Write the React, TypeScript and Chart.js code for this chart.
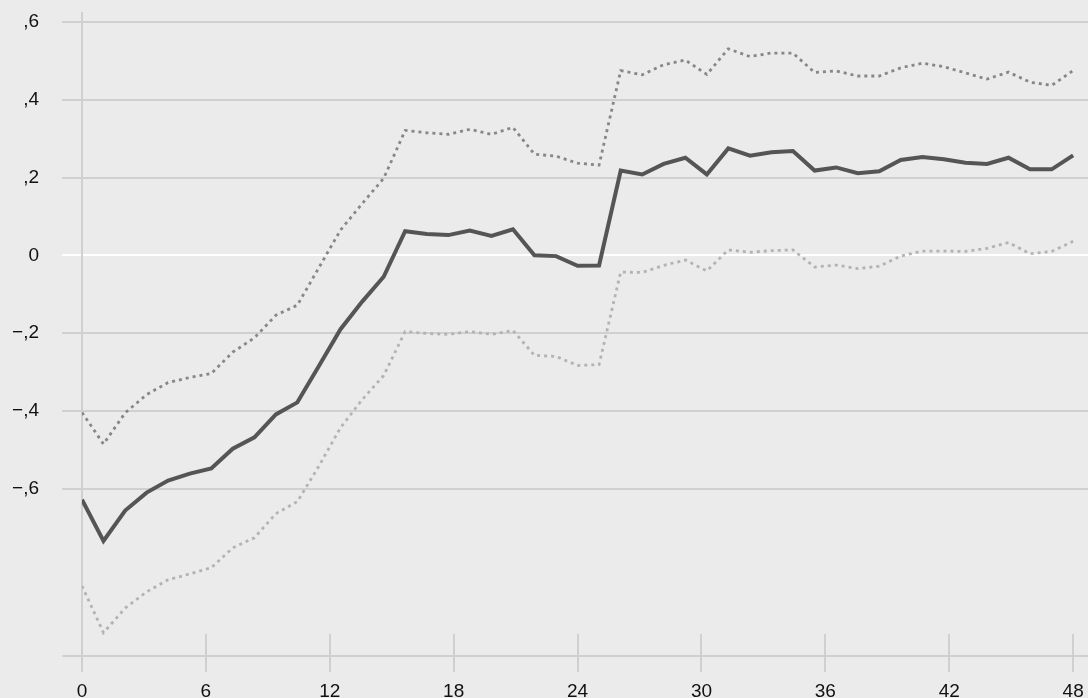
import React, { useEffect, useRef } from "react";
import { Chart, registerables } from "chart.js";

Chart.register(...registerables);

const lags = [0, 1.04, 2.09, 3.13, 4.17, 5.22, 6.26, 7.3, 8.35, 9.39, 10.43, 11.48, 12.52, 13.57, 14.61, 15.65, 16.7, 17.74, 18.78, 19.83, 20.87, 21.91, 22.96, 24, 25.04, 26.09, 27.13, 28.17, 29.22, 30.26, 31.3, 32.35, 33.39, 34.43, 35.48, 36.52, 37.57, 38.61, 39.65, 40.7, 41.74, 42.78, 43.83, 44.87, 45.91, 46.96, 48];

const estimate = [-0.628, -0.734, -0.656, -0.61, -0.579, -0.561, -0.548, -0.497, -0.468, -0.409, -0.378, -0.284, -0.19, -0.119, -0.055, 0.062, 0.055, 0.052, 0.064, 0.05, 0.067, 0.0, -0.002, -0.027, -0.026, 0.218, 0.208, 0.235, 0.251, 0.208, 0.275, 0.256, 0.265, 0.268, 0.218, 0.226, 0.211, 0.216, 0.245, 0.253, 0.247, 0.238, 0.235, 0.251, 0.221, 0.221, 0.257];

const upperBound = [-0.404, -0.485, -0.405, -0.358, -0.327, -0.314, -0.304, -0.249, -0.212, -0.154, -0.128, -0.031, 0.065, 0.133, 0.198, 0.321, 0.315, 0.311, 0.324, 0.311, 0.329, 0.26, 0.255, 0.237, 0.232, 0.475, 0.464, 0.49, 0.502, 0.465, 0.531, 0.511, 0.52, 0.52, 0.47, 0.474, 0.461, 0.461, 0.482, 0.494, 0.485, 0.469, 0.453, 0.471, 0.445, 0.437, 0.475];

const lowerBound = [-0.85, -0.97, -0.907, -0.865, -0.834, -0.819, -0.803, -0.752, -0.726, -0.664, -0.633, -0.541, -0.443, -0.371, -0.309, -0.196, -0.201, -0.203, -0.196, -0.203, -0.193, -0.257, -0.26, -0.283, -0.281, -0.043, -0.044, -0.026, -0.012, -0.04, 0.014, 0.008, 0.012, 0.014, -0.03, -0.025, -0.034, -0.028, -0.002, 0.011, 0.011, 0.01, 0.018, 0.033, 0.004, 0.01, 0.036];

const yTickValues = [-0.6, -0.4, -0.2, 0, 0.2, 0.4, 0.6];
const xTickValues = [0, 6, 12, 18, 24, 30, 36, 42, 48];

const Y_MIN = -1.03;
const Y_MAX = 0.623;
const X_MIN = 0;
const X_MAX = 48.72;

const GRID = "#d0d0d0";
const FONT = { family: "'Liberation Sans', Arial, Helvetica, sans-serif", size: 19 };

function fmtY(v: number): string {
  if (Math.abs(v) < 1e-9) return "0";
  const s = Math.abs(v).toFixed(1).replace(/^0\./, ",");
  return (v < 0 ? "\u2212" : "") + s;
}

const tickUpPlugin = {
  id: "tickUp",
  beforeDatasetsDraw(chart: any) {
    const xs = chart.scales.x;
    const area = chart.chartArea;
    const ctx = chart.ctx;
    ctx.save();
    ctx.strokeStyle = GRID;
    ctx.lineWidth = 2;
    xTickValues.forEach((v) => {
      const px = Math.round(xs.getPixelForValue(v));
      ctx.beginPath();
      ctx.moveTo(px, area.bottom - 22);
      ctx.lineTo(px, area.bottom);
      ctx.stroke();
    });
    ctx.restore();
  },
};

export default function App() {
  const ref = useRef<HTMLCanvasElement | null>(null);

  useEffect(() => {
    if (!ref.current) return;
    const mk = (arr: number[]) => arr.map((y, i) => ({ x: lags[i], y }));
    const chart = new Chart(ref.current, {
      type: "line",
      data: {
        datasets: [
          {
            data: mk(upperBound),
            borderColor: "#878787",
            borderWidth: 2.8,
            borderDash: [3, 4],
            pointRadius: 0,
            tension: 0,
          },
          {
            data: mk(lowerBound),
            borderColor: "#b3b3b3",
            borderWidth: 2.8,
            borderDash: [3, 4],
            pointRadius: 0,
            tension: 0,
          },
          {
            data: mk(estimate),
            borderColor: "#555555",
            borderWidth: 4,
            pointRadius: 0,
            tension: 0,
          },
        ],
      },
      options: {
        animation: false,
        responsive: true,
        maintainAspectRatio: false,
        layout: { padding: { top: 13, left: 0, right: 0, bottom: 0 } },
        plugins: { legend: { display: false }, tooltip: { enabled: false } },
        scales: {
          x: {
            type: "linear",
            min: X_MIN,
            max: X_MAX,
            afterFit: (s: any) => {
              s.height = 42;
              s.paddingLeft = 0;
              s.paddingRight = 0;
            },
            afterBuildTicks: (s: any) => {
              s.ticks = xTickValues.map((v) => ({ value: v }));
            },
            border: { display: false },
            grid: {
              drawOnChartArea: false,
              drawTicks: true,
              tickLength: 16,
              color: GRID,
              lineWidth: 2,
            },
            ticks: {
              autoSkip: false,
              maxRotation: 0,
              padding: 8,
              color: "#111",
              font: FONT,
              callback: (v: any) => String(v),
            },
          },
          y: {
            type: "linear",
            min: Y_MIN,
            max: Y_MAX,
            afterFit: (s: any) => {
              s.width = 82;
              s.paddingTop = 0;
              s.paddingBottom = 0;
            },
            afterBuildTicks: (s: any) => {
              s.ticks = [Y_MIN, ...yTickValues].map((v) => ({ value: v }));
            },
            border: { display: true, color: GRID, width: 2 },
            grid: {
              drawOnChartArea: true,
              drawTicks: true,
              tickLength: 20,
              lineWidth: 2,
              color: (c: any) => (c.tick && Math.abs(c.tick.value) < 1e-9 ? "#ffffff" : GRID),
            },
            ticks: {
              padding: 23,
              color: "#111",
              font: FONT,
              callback: (v: any) => (Math.abs(Number(v) - Y_MIN) < 1e-6 ? "" : fmtY(Number(v))),
            },
          },
        },
      },
      plugins: [tickUpPlugin],
    });
    return () => chart.destroy();
  }, []);

  return (
    <div
      style={{
        position: "fixed",
        left: 0,
        top: 0,
        width: 1088,
        height: 698,
        background: "#ebebeb",
      }}
    >
      <canvas ref={ref} />
    </div>
  );
}
